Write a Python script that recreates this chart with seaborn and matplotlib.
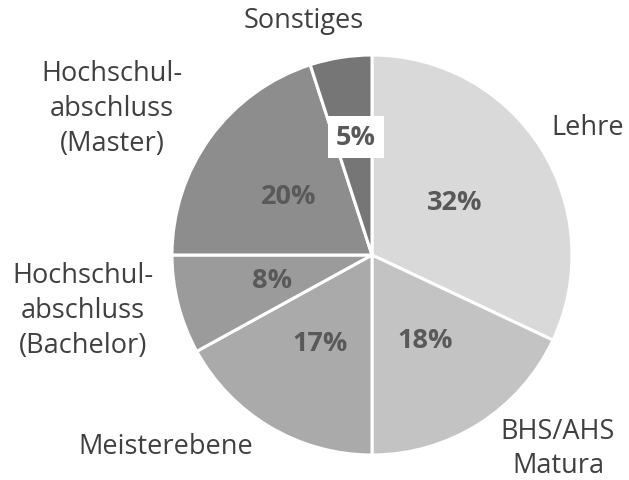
import matplotlib
matplotlib.use("Agg")
import matplotlib.pyplot as plt
import seaborn as sns

categories = ["Lehre", "BHS/AHS\nMatura", "Meisterebene", "Hochschul-\nabschluss\n(Bachelor)",
              "Hochschul-\nabschluss\n(Master)", "Sonstiges"]
values = [32, 18, 17, 8, 20, 5]
pct_labels = ["32%", "18%", "17%", "8%", "20%", "5%"]
colors = ["#d9d9d9", "#c3c3c3", "#aaaaaa", "#9b9b9b", "#8d8d8d", "#767676"]

sns.set_theme(style="white")
plt.rcParams['font.family'] = ['Open Sans', 'DejaVu Sans']

W, H = 629, 481
fig = plt.figure(figsize=(W / 100, H / 100), dpi=100)
ax = fig.add_axes([0, 0, 1, 1])

cx, cy, r = 372, H - 256, 200
ax.pie(values, colors=colors, startangle=90, counterclock=False, center=(cx, cy), radius=r,
       wedgeprops=dict(edgecolor="white", linewidth=2.2), frame=True)
ax.set_xlim(0, W)
ax.set_ylim(0, H)
ax.set_aspect("equal")
ax.axis("off")

# percentage labels (pixel positions)
pct_pos = [(455, 203), (425, 341), (320, 344), (272, 281), (289, 197), (356, 138)]
for (x, y), t in zip(pct_pos, pct_labels):
    kw = {}
    if t == "5%":
        kw["bbox"] = dict(boxstyle="square,pad=0.3", fc="white", ec="none")
    ax.text(x, H - y, t, ha="center", va="center", fontsize=19.5, fontweight="bold",
            color="#595959", **kw)

lab_pos = [(588, 128), (558, 449), (166, 447), (83, 311), (112, 109), (304, 21)]
for (x, y), t in zip(lab_pos, categories):
    ax.text(x, H - y, t, ha="center", va="center", fontsize=19.5, color="#404040",
            linespacing=1.32)

fig.savefig("out.png", dpi=100)
